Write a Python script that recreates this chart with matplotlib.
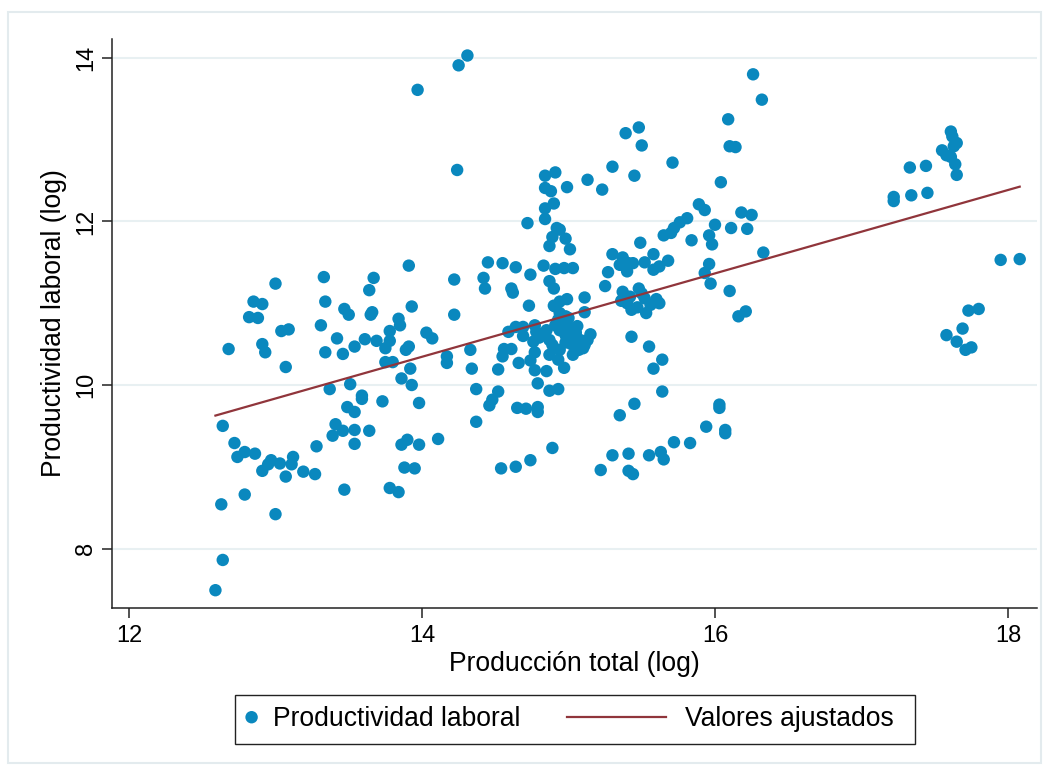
import numpy as np
import matplotlib
matplotlib.use("Agg")
import matplotlib.pyplot as plt
from matplotlib.legend_handler import HandlerBase
from matplotlib.lines import Line2D
from matplotlib.patches import Rectangle

# ---------------- data ----------------
prod_total = [
    13.00, 13.33, 12.85, 12.91, 12.82, 12.88, 13.34, 13.47, 13.50, 13.64,
    13.67, 13.65, 13.66, 13.91, 13.93, 13.84, 13.85, 13.78, 13.04, 13.09,
    13.31, 13.42, 13.61, 13.69, 13.78, 13.75, 12.91, 12.93, 12.68, 13.34,
    13.46, 13.54, 13.89, 13.91, 13.07, 13.75, 13.80, 13.92, 14.03, 14.07,
    14.17, 14.17, 13.86, 13.93, 13.51, 13.37, 13.59, 13.59, 13.73, 13.98,
    13.49, 13.54, 12.64, 13.41, 13.39, 13.46, 13.54, 13.64, 13.54, 13.28,
    12.72, 12.74, 12.79, 12.86, 12.97, 12.95, 12.91, 13.03, 13.12, 13.11,
    13.07, 13.19, 13.27, 13.86, 13.90, 13.98, 14.11, 13.88, 13.95, 13.47,
    13.78, 13.84, 12.79, 12.63, 13.00, 12.64, 12.59,
    14.31, 14.25, 13.97, 14.24, 16.26, 16.32, 16.09, 16.10, 16.14, 15.39,
    15.48, 15.50, 15.71, 15.45, 15.30, 15.13, 15.23, 16.04, 14.84, 14.91,
    14.84, 14.88, 14.99, 14.90, 14.84, 14.84, 14.72, 14.92, 14.94, 14.98,
    15.01, 14.89, 14.87, 15.89, 15.93, 15.81, 15.76, 15.72, 15.70, 15.65,
    16.00, 16.11, 16.18, 16.25, 16.22, 15.84, 15.96, 15.98, 16.33, 15.49,
    15.30, 14.45, 14.55, 14.64, 14.42, 14.43, 14.22, 14.74, 14.83, 14.91,
    14.97, 15.03, 14.87, 14.90, 14.61, 14.62, 15.37, 15.35, 15.41, 15.44,
    15.40, 15.27, 15.25, 15.52, 15.58, 15.58, 15.62, 15.68, 15.96, 15.93,
    15.97, 16.10, 16.16, 16.21,
    14.22, 14.73, 15.11, 14.90, 14.94, 14.99, 15.11, 15.37, 15.42, 15.48,
    15.40, 15.52, 15.43, 15.56, 15.62, 15.53, 14.91, 14.94, 14.98, 14.59,
    14.64, 14.69, 14.69, 14.77, 14.78, 14.76, 14.85, 14.87, 14.91, 14.94,
    14.98, 15.01, 15.05, 15.08, 15.07, 15.03, 14.94, 14.89, 14.87, 14.93,
    15.00, 15.15, 15.11, 15.43, 15.55, 14.33, 14.56, 14.61, 14.55, 14.77,
    14.66, 14.74, 14.77, 14.85, 14.93, 14.97, 14.34, 14.52, 15.64, 15.58,
    14.79, 14.87, 14.93, 14.37, 14.52, 14.48, 14.46, 14.65, 14.71, 14.79,
    14.79, 14.37, 15.35, 15.45, 15.64, 14.89, 14.74, 14.64, 14.54, 15.22,
    15.30, 15.41, 15.41, 15.44, 15.55, 15.63, 15.65, 15.72, 15.83, 15.94,
    16.03, 16.03, 16.07, 16.07,
    17.61, 17.62, 17.65, 17.63, 17.55, 17.58, 17.61, 17.64, 17.65, 17.33,
    17.44, 17.22, 17.22, 17.34, 17.45, 17.95, 18.08, 17.73, 17.80, 17.69,
    17.58, 17.65, 17.71, 17.75,
    15.36, 15.47, 15.50, 15.60, 14.80, 15.02, 14.96, 15.06,
    15.04, 15.10, 14.98, 15.13,
]

prod_laboral = [
    11.24, 11.32, 11.02, 10.99, 10.83, 10.82, 11.02, 10.93, 10.86, 11.16,
    11.31, 10.86, 10.89, 11.46, 10.96, 10.81, 10.73, 10.66, 10.66, 10.68,
    10.73, 10.57, 10.56, 10.54, 10.54, 10.45, 10.50, 10.40, 10.44, 10.40,
    10.38, 10.47, 10.43, 10.47, 10.22, 10.28, 10.28, 10.20, 10.64, 10.57,
    10.35, 10.27, 10.08, 10.00, 10.01, 9.95, 9.87, 9.83, 9.80, 9.78,
    9.73, 9.67, 9.50, 9.52, 9.38, 9.44, 9.45, 9.44, 9.28, 9.25,
    9.29, 9.12, 9.18, 9.16, 9.08, 9.03, 8.95, 9.04, 9.12, 9.03,
    8.88, 8.94, 8.91, 9.27, 9.33, 9.27, 9.34, 8.99, 8.98, 8.72,
    8.74, 8.69, 8.66, 8.54, 8.42, 7.86, 7.49,
    14.03, 13.91, 13.61, 12.63, 13.80, 13.49, 13.25, 12.92, 12.91, 13.08,
    13.15, 12.93, 12.72, 12.56, 12.67, 12.51, 12.39, 12.48, 12.56, 12.60,
    12.41, 12.37, 12.42, 12.22, 12.16, 12.03, 11.98, 11.92, 11.90, 11.79,
    11.66, 11.81, 11.70, 12.21, 12.14, 12.04, 11.99, 11.92, 11.86, 11.83,
    11.96, 11.92, 12.11, 12.08, 11.91, 11.77, 11.83, 11.72, 11.62, 11.74,
    11.60, 11.50, 11.49, 11.44, 11.31, 11.18, 11.29, 11.35, 11.46, 11.42,
    11.43, 11.43, 11.27, 11.18, 11.18, 11.13, 11.56, 11.47, 11.49, 11.49,
    11.39, 11.38, 11.21, 11.50, 11.60, 11.41, 11.45, 11.52, 11.48, 11.37,
    11.24, 11.15, 10.84, 10.90,
    10.86, 10.97, 11.07, 10.97, 11.02, 11.05, 10.89, 11.14, 11.08, 11.18,
    11.00, 11.06, 10.92, 10.98, 11.00, 10.88, 10.96, 10.88, 10.84, 10.65,
    10.71, 10.71, 10.60, 10.73, 10.65, 10.53, 10.67, 10.55, 10.73, 10.67,
    10.61, 10.70, 10.64, 10.55, 10.43, 10.37, 10.43, 10.49, 10.37, 10.80,
    10.82, 10.62, 10.49, 10.59, 10.47, 10.43, 10.44, 10.44, 10.35, 10.40,
    10.27, 10.30, 10.18, 10.17, 10.31, 10.21, 10.20, 10.19, 10.31, 10.20,
    10.02, 9.93, 9.95, 9.95, 9.92, 9.82, 9.75, 9.72, 9.71, 9.73,
    9.67, 9.55, 9.63, 9.77, 9.92, 9.23, 9.08, 9.00, 8.98, 8.96,
    9.14, 9.16, 8.95, 8.91, 9.14, 9.18, 9.09, 9.30, 9.29, 9.49,
    9.76, 9.72, 9.45, 9.41,
    13.10, 13.04, 12.96, 12.92, 12.87, 12.81, 12.79, 12.70, 12.57, 12.66,
    12.68, 12.30, 12.25, 12.32, 12.35, 11.53, 11.54, 10.91, 10.93, 10.69,
    10.61, 10.53, 10.43, 10.46,
    11.03, 10.95, 11.12, 11.05, 10.58, 10.50, 10.76, 10.72,
    10.58, 10.45, 10.52, 10.55,
]

# fitted regression line
fit_intercept = 3.205
fit_slope = 0.510

x_ticks = [12, 14, 16, 18]
y_ticks = [8, 10, 12, 14]
x_label = "Producción total (log)"
y_label = "Productividad laboral (log)"
series_labels = ["Productividad laboral", "Valores ajustados"]

# ---------------- style ----------------
plt.rcParams['font.family'] = ['Liberation Sans', 'DejaVu Sans']
marker_color = '#0A88BE'
line_color = '#90353B'
axis_color = '#222222'
grid_color = '#E8F0F2'
title_fs = 19.1
tick_fs = 17

W, H = 1049, 774
fig = plt.figure(figsize=(W / 100, H / 100), dpi=100)
fig.patch.set_facecolor('white')

ax = fig.add_axes([112 / W, 1 - 607.7 / H, (1037 - 112) / W, (607.7 - 39) / H])
ax.set_xlim(11.884, 18.198)
ax.set_ylim(7.276, 14.232)

sc = ax.scatter(prod_total, prod_laboral, s=80, color=marker_color,
                edgecolors='none', zorder=3)

x_fit = np.array([min(prod_total), max(prod_total)])
y_fit = fit_intercept + fit_slope * x_fit
ln, = ax.plot(x_fit, y_fit, color=line_color, lw=1.6, zorder=4)

ax.set_xticks(x_ticks)
ax.set_yticks(y_ticks)
ax.set_xticklabels([str(t) for t in x_ticks])
ax.set_yticklabels([str(t) for t in y_ticks])
for t in ax.get_yticklabels():
    t.set_rotation(90)
    t.set_va('center')

ax.yaxis.grid(True, color=grid_color, lw=1.5)
ax.xaxis.grid(False)
ax.set_axisbelow(True)

for side in ['top', 'right']:
    ax.spines[side].set_visible(False)
for side in ['left', 'bottom']:
    ax.spines[side].set_color(axis_color)
    ax.spines[side].set_linewidth(1.1)

ax.tick_params(axis='both', direction='out', length=7.5, width=1.1,
               color=axis_color, labelsize=tick_fs, labelcolor='black', pad=5)
ax.tick_params(axis='y', pad=3)

ax.set_xlabel(x_label, fontsize=title_fs, labelpad=3)
ax.set_ylabel(y_label, fontsize=title_fs, labelpad=6)


class LongLineHandler(HandlerBase):
    def __init__(self, left, right, **kw):
        super().__init__(**kw)
        self.left = left
        self.right = right

    def create_artists(self, legend, orig_handle, xdescent, ydescent,
                       width, height, fontsize, trans):
        y = -ydescent + height / 2
        l = Line2D([-xdescent - self.left * fontsize,
                    -xdescent + self.right * fontsize], [y, y],
                   color=orig_handle.get_color(),
                   lw=orig_handle.get_linewidth(), transform=trans)
        return [l]


leg = ax.legend([sc, ln], series_labels, loc='center left',
                bbox_to_anchor=(235 / W, 1 - 719.5 / H),
                bbox_transform=fig.transFigure, ncol=2, frameon=False,
                fontsize=title_fs, borderpad=0.35, borderaxespad=0,
                handlelength=0.55, handletextpad=0.55, columnspacing=5.1,
                scatterpoints=1, scatteryoffsets=[0.5],
                handler_map={ln: LongLineHandler(3.35, 0.38)})

fig.add_artist(Rectangle((235 / W, 1 - 744 / H), 680 / W, 49 / H,
                         transform=fig.transFigure, fill=False,
                         edgecolor=axis_color, lw=1.0))
fig.add_artist(Rectangle((8 / W, 1 - 763 / H), (1041 - 8) / W, (763 - 12) / H,
                         transform=fig.transFigure, fill=False,
                         edgecolor='#E3EBEE', lw=1.5))

fig.savefig('out.png', dpi=100)
